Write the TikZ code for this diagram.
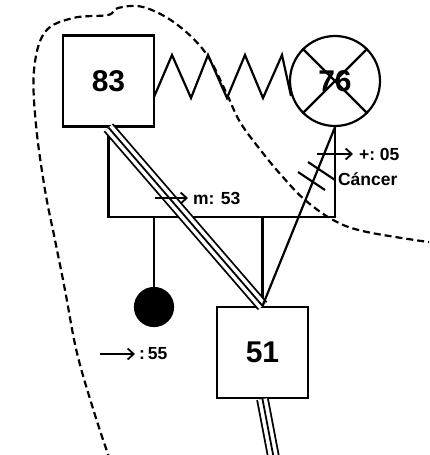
\documentclass[tikz,border=0pt]{standalone}
\usepackage{fontspec}
\setmainfont{Liberation Sans}
\usetikzlibrary{arrows.meta}

\begin{document}
\begin{tikzpicture}[x=1pt,y=-1pt,line width=2.2pt,
  male/.style={draw,rectangle,minimum size=91pt,inner sep=0pt,font=\bfseries\fontsize{30}{30}\selectfont},
  female/.style={draw,circle,minimum size=90pt,inner sep=0pt,font=\bfseries\fontsize{30}{30}\selectfont},
  label/.style={anchor=west,inner sep=0pt,font=\bfseries\fontsize{17.5}{17.5}\selectfont},
  pointer/.style={-{Straight Barb[length=6pt,width=11pt]},line width=1.8pt},
  triple/.style={double,double distance=9pt,line width=1.8pt}]

\useasboundingbox (0,0) rectangle (429,455);
\clip (0,0) rectangle (429,455);

% People
\node[male] (f) at (108.5,81) {83};
\node[female] (m) at (335,81) {76};
\node[male] (s) at (262.5,352.5) {51};
\node[draw,circle,fill,minimum size=38pt,inner sep=0pt] (d) at (154,307) {};

% Deceased cross
\draw (m.north west) -- (m.south east);
\draw (m.north east) -- (m.south west);

% Conflict line
\draw (154,97) -- (172,55) -- (191,98) -- (208,55) -- (227,98)
  -- (245,55) -- (263,98) -- (282,55) -- (291,96);

% Family line
\coordinate (kd) at (154,217);
\coordinate (ks) at (262.5,217);
\draw (f.south) -- (f.south |- kd) -| (m.south);
\draw (kd) -- (d.north);
\draw (ks) -- (s.north);

% Close bond
\coordinate (out) at (276,470);
\draw[triple] (f.south) -- (s.north);
\draw[line width=1.8pt] (f.south) -- (s.north);
\draw[triple] (s.south) -- (out);
\draw[line width=1.8pt] (s.south) -- (out);

% Broken bond
\draw (m.south) -- (s.north);
\draw (308,162) -- (335,180);
\draw (298,172) -- (325,190);

% Labels
\node[label] (dead) at (358,154) {+:\ 05};
\node[label] (why) at (337,179) {Cáncer};
\node[label] (age) at (192,198) {m: 53};
\node[label] (born) at (138,354) {:\,55};
\coordinate (a1) at (317,154);
\coordinate (a2) at (155,198);
\coordinate (a3) at (100,354);
\draw[pointer] (a1) -- ([xshift=-5pt]dead.west);
\draw[pointer] (a2) -- ([xshift=-4pt]age.west);
\draw[pointer] (a3) -- ([xshift=-3pt]born.west);

% Household
\draw[dashed,dash pattern=on 7pt off 4pt] plot[smooth,tension=0.6] coordinates {
  (435,243) (367,232) (335,221) (305,200) (282,176) (262,152) (240,122)
  (225,90) (205,52) (175,23) (143,7) (118,8) (108,15) (73,18) (45,32)
  (34,70) (36,125) (45,190) (55,240) (65,290) (77,353) (95,415) (110,460)};

\end{tikzpicture}
\end{document}
